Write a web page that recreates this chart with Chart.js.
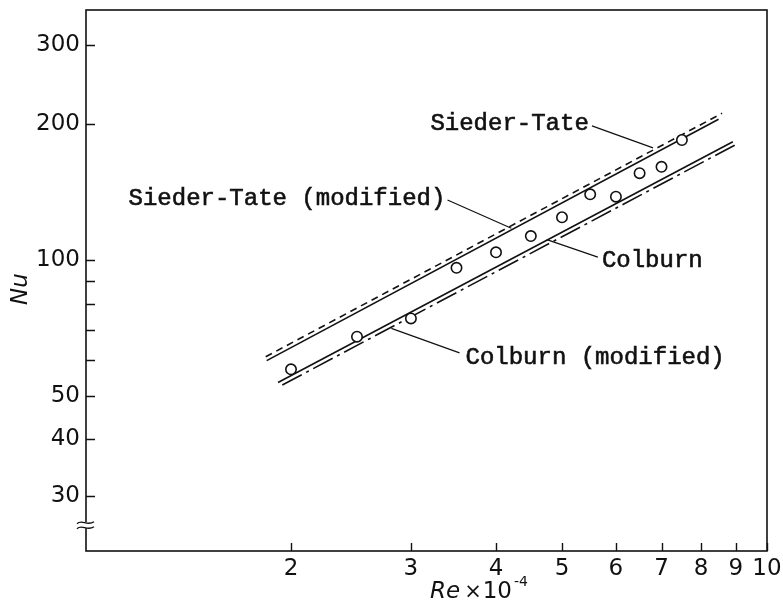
<!DOCTYPE html>
<html>
<head>
<meta charset="utf-8">
<script src="https://cdn.jsdelivr.net/npm/chart.js@4.4.1/dist/chart.umd.min.js"></script>
<style>
  html, body { margin: 0; padding: 0; background: #fff; }
  #wrap { width: 783px; height: 602px; }
</style>
</head>
<body>
<div id="wrap"><canvas id="c" width="783" height="602"></canvas></div>
<script>
// ---- data (Re x 10^-4 vs Nu) ----
const reValues = [2, 2.5, 3, 3.5, 4, 4.5, 5, 5.5, 6, 6.5, 7, 7.5];
const nuValues = [57.2, 67.6, 74.2, 96.1, 104, 113, 124.4, 139.9, 138.2, 155.8, 161, 184.6];

const siederTateX = [1.836, 8.59];
const siederTateY = [61.0, 211.6];
const siederTateModX = [1.842, 8.49];
const siederTateModY = [59.8, 205.2];
const colburnX = [1.914, 8.91];
const colburnY = [53.5, 183.0];
const colburnModX = [1.942, 8.98];
const colburnModY = [52.8, 180.0];

const xTicks = [2, 3, 4, 5, 6, 7, 8, 9, 10];
const xTickLabels = ['2', '3', '4', '5', '6', '7', '8', '9', '10'];
const yTicks = [30, 40, 50, 60, 70, 80, 90, 100, 200, 300];
const yTickLabels = ['30', '40', '50', '', '', '', '', '100', '200', '300'];

// curve labels: text, anchor (data coords), leader line (data coords)
const labelTexts = ['Sieder\u2010Tate', 'Sieder\u2010Tate (modified)', 'Colburn', 'Colburn (modified)'];
const labelAnchorX = [3.204, 1.1546, 5.722, 3.608];
const labelAnchorY = [200.4, 136.6, 99.5, 60.6];
const leaderFromX = [5.533, 3.395, 5.644, 3.536];
const leaderFromY = [198.4, 135.9, 101.5, 62.2];
const leaderToX = [6.802, 4.213, 4.750, 2.808];
const leaderToY = [177.3, 117.6, 111.0, 70.5];

function pts(xs, ys) { return xs.map((v, i) => ({ x: v, y: ys[i] })); }

const INK = '#111';

const decorPlugin = {
  id: 'decor',
  afterDatasetsDraw(chart) {
    const { ctx, chartArea: a, scales: { x, y } } = chart;
    ctx.save();
    ctx.strokeStyle = INK;
    ctx.fillStyle = INK;
    // frame
    ctx.lineWidth = 1.6;
    ctx.strokeRect(a.left, a.top, a.right - a.left, a.bottom - a.top);
    // inward ticks
    ctx.lineWidth = 1.4;
    ctx.beginPath();
    xTicks.forEach(v => {
      const px = Math.round(x.getPixelForValue(v)) + 0.5;
      ctx.moveTo(px, a.bottom); ctx.lineTo(px, a.bottom - 8);
    });
    yTicks.forEach(v => {
      const py = Math.round(y.getPixelForValue(v)) + 0.5;
      ctx.moveTo(a.left, py); ctx.lineTo(a.left + 9, py);
    });
    ctx.stroke();
    // axis break mark
    const by = y.getPixelForValue(25.8);
    const bx = a.left;
    ctx.fillStyle = '#fff';
    ctx.fillRect(bx - 2, by - 3, 4, 6);
    ctx.lineWidth = 1.3;
    [-2.5, 2.5].forEach(off => {
      ctx.beginPath();
      ctx.moveTo(bx - 9, by + off + 1);
      ctx.bezierCurveTo(bx - 4, by + off - 4, bx + 1, by + off + 4, bx + 8, by + off - 1);
      ctx.stroke();
    });
    // leader lines
    ctx.lineWidth = 1.2;
    ctx.beginPath();
    leaderFromX.forEach((v, i) => {
      ctx.moveTo(x.getPixelForValue(v), y.getPixelForValue(leaderFromY[i]));
      ctx.lineTo(x.getPixelForValue(leaderToX[i]), y.getPixelForValue(leaderToY[i]));
    });
    ctx.stroke();
    // curve labels
    ctx.fillStyle = INK;
    ctx.font = '24px "Liberation Mono", "Courier New", monospace';
    ctx.textAlign = 'left';
    ctx.textBaseline = 'middle';
    ctx.lineWidth = 0.6;
    labelTexts.forEach((t, i) => {
      const lx = x.getPixelForValue(labelAnchorX[i]);
      const ly = y.getPixelForValue(labelAnchorY[i]);
      ctx.fillText(t, lx, ly);
      ctx.strokeText(t, lx, ly);
    });
    // axis titles
    ctx.textBaseline = 'alphabetic';
    ctx.font = 'italic 23px "DejaVu Sans"';
    let tx = 430, ty = 598;
    ctx.fillText('Re', tx, ty);
    tx += ctx.measureText('Re').width + 4;
    ctx.font = '21px "DejaVu Sans"';
    ctx.fillText('\u00d7', tx, ty);
    tx += ctx.measureText('\u00d7').width + 1;
    ctx.font = '23px "DejaVu Sans"';
    ctx.fillText('10', tx, ty);
    tx += ctx.measureText('10').width + 2;
    ctx.font = '14px "DejaVu Sans"';
    ctx.fillText('-4', tx, ty - 12);
    // y title
    ctx.save();
    ctx.translate(27, 289);
    ctx.rotate(-Math.PI / 2);
    ctx.font = 'italic 23px "DejaVu Sans"';
    ctx.textAlign = 'center';
    ctx.fillText('Nu', 0, 0);
    ctx.restore();
    ctx.restore();
  }
};

const tickFont = { family: '"DejaVu Sans"', size: 23 };

new Chart(document.getElementById('c'), {
  type: 'scatter',
  data: {
    datasets: [
      {
        label: 'Experiment',
        data: pts(reValues, nuValues),
        pointRadius: 5.2,
        pointBorderWidth: 1.6,
        pointBorderColor: INK,
        pointBackgroundColor: '#fff',
        showLine: false
      },
      {
        label: 'Sieder-Tate',
        data: pts(siederTateX, siederTateY),
        showLine: true, pointRadius: 0,
        borderColor: INK, borderWidth: 1.6, borderDash: [7, 5]
      },
      {
        label: 'Sieder-Tate (modified)',
        data: pts(siederTateModX, siederTateModY),
        showLine: true, pointRadius: 0,
        borderColor: INK, borderWidth: 1.6
      },
      {
        label: 'Colburn',
        data: pts(colburnX, colburnY),
        showLine: true, pointRadius: 0,
        borderColor: INK, borderWidth: 1.6
      },
      {
        label: 'Colburn (modified)',
        data: pts(colburnModX, colburnModY),
        showLine: true, pointRadius: 0,
        borderColor: INK, borderWidth: 1.6, borderDash: [22, 5, 3, 5]
      }
    ]
  },
  options: {
    responsive: false,
    animation: false,
    events: [],
    layout: { padding: { left: 0, top: 10, right: 16, bottom: 0 } },
    plugins: { legend: { display: false }, tooltip: { enabled: false } },
    scales: {
      x: {
        type: 'logarithmic',
        position: 'bottom',
        min: 1, max: 10,
        grid: { display: false, drawTicks: false },
        border: { display: false },
        afterBuildTicks: s => { s.ticks = xTicks.map(v => ({ value: v })); },
        afterFit: s => { s.height = 51; s.paddingLeft = 0; s.paddingRight = 0; },
        ticks: {
          autoSkip: false, maxRotation: 0, minRotation: 0,
          padding: 4, color: INK, font: tickFont,
          callback: (v) => { const i = xTicks.indexOf(v); return i >= 0 ? xTickLabels[i] : ''; }
        }
      },
      y: {
        type: 'logarithmic',
        position: 'left',
        min: 22.61, max: 358.7,
        grid: { display: false, drawTicks: false },
        border: { display: false },
        afterBuildTicks: s => { s.ticks = yTicks.map(v => ({ value: v })); },
        afterFit: s => { s.width = 86; s.paddingTop = 0; s.paddingBottom = 0; },
        ticks: {
          autoSkip: false, padding: 6, color: INK, font: tickFont,
          callback: (v) => { const i = yTicks.indexOf(v); return i >= 0 ? yTickLabels[i] : ''; }
        }
      }
    }
  },
  plugins: [decorPlugin]
});
</script>
</body>
</html>
